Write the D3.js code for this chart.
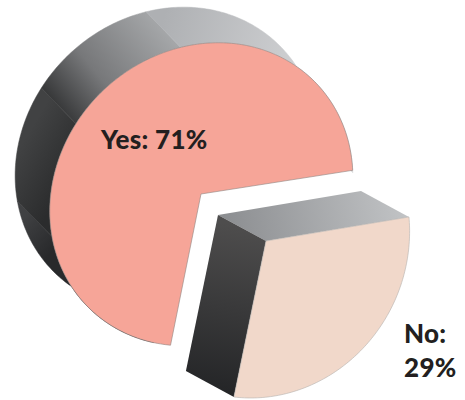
<!DOCTYPE html>
<html>
<head>
<meta charset="utf-8">
<script src="https://cdn.jsdelivr.net/npm/d3@7/dist/d3.min.js"></script>
<style>
html,body{margin:0;padding:0;background:#fff}
svg{display:block}
text{font-family:Lato,sans-serif;font-weight:900;fill:#231f20;letter-spacing:.3px}
</style>
</head>
<body>
<svg id="chart" width="465" height="400"></svg>
<script>
const categories = ["Yes", "No"];
const shares = [71, 29];
const faceFills = ["#f6a598", "#f1d8ca"];
const faceStrokes = ["#8f8581", "#b5b1ae"];

const deg = Math.PI / 180;
const svg = d3.select("#chart");
const defs = svg.append("defs");

// The pie lies on a tilted plane: each circle becomes an ellipse given by a
// centre and two axis vectors. The apex of a wedge sits near, not on, the centre.
const pieStart = 143.5 * deg;
const wedgeGeometry = [
  {centre: [201.3, 194.3], axisU: [113, -113], axisV: [101, 101], apex: [201, 194]},
  {centre: [258, 239.2], axisU: [108.4, -116.4], axisV: [106, 108], apex: [266, 241]}
];
const bigBackCentre = [166.7, 158.7];
const smallDepth = [-48, -26];

const wedges = d3.pie().sort(null).startAngle(pieStart).endAngle(pieStart + 2 * Math.PI)(shares);

function onEllipse(c, g, t) {
  return [
    c[0] + g.axisU[0] * Math.cos(t) + g.axisV[0] * Math.sin(t),
    c[1] + g.axisU[1] * Math.cos(t) + g.axisV[1] * Math.sin(t)
  ];
}

function rim(c, g, t0, t1) {
  const n = Math.max(2, Math.ceil(Math.abs(t1 - t0) / deg));
  return d3.range(n + 1).map(k => onEllipse(c, g, t0 + (t1 - t0) * k / n));
}

function gradient(id, from, to, stops) {
  const g = defs.append("linearGradient").attr("id", id)
    .attr("gradientUnits", "userSpaceOnUse")
    .attr("x1", from[0]).attr("y1", from[1]).attr("x2", to[0]).attr("y2", to[1]);
  stops.forEach(([o, c]) => g.append("stop").attr("offset", o).attr("stop-color", c));
  return `url(#${id})`;
}

const outline = d3.line();

// Curved wall of the large wedge, shaded as four facets
const curvedFacets = [
  {span: [150, 212], from: [25, 215], to: [58, 245], stops: [[0, "#404143"], [1, "#28292b"]]},
  {span: [212, 256], from: [18, 150], to: [68, 180], stops: [[0, "#414243"], [1, "#2b2c2d"]]},
  {span: [256, 304], from: [60, 120], to: [172, 28], stops: [[0, "#2f3031"], [0.4, "#77787a"], [1, "#a9abad"]]},
  {span: [304, 400], from: [160, 30], to: [310, 70], stops: [[0, "#aeb0b3"], [1, "#d2d3d5"]]}
];

const big = wedgeGeometry[0];
curvedFacets.forEach((f, i) => {
  const [t0, t1] = f.span.map(v => v * deg);
  const ring = rim(big.centre, big, t0, t1).concat(rim(bigBackCentre, big, t1, t0));
  const fill = gradient("facet" + i, f.from, f.to, f.stops);
  svg.append("path").attr("d", outline(ring) + "Z")
    .attr("fill", fill).attr("stroke", fill).attr("stroke-width", 0.5);
});

// Flat cut walls of the small wedge
const small = wedgeGeometry[1];
const rimStart = onEllipse(small.centre, small, wedges[1].startAngle);
const rimEnd = onEllipse(small.centre, small, wedges[1].endAngle);
const pushBack = p => [p[0] + smallDepth[0], p[1] + smallDepth[1]];

svg.append("path")
  .attr("d", outline([small.apex, rimStart, pushBack(rimStart), pushBack(small.apex)]) + "Z")
  .attr("fill", gradient("wallTop", [225, 225], [400, 195], [[0, "#8c8e91"], [1, "#c0c2c4"]]));
svg.append("path")
  .attr("d", outline([small.apex, pushBack(small.apex), pushBack(rimEnd), rimEnd]) + "Z")
  .attr("fill", gradient("wallSide", [235, 225], [205, 390], [[0, "#4e4d4d"], [1, "#242527"]]));

// Front faces
wedges.forEach((w, i) => {
  const g = wedgeGeometry[i];
  const ring = [g.apex].concat(rim(g.centre, g, w.startAngle, w.endAngle));
  svg.append("path").attr("d", outline(ring) + "Z")
    .attr("fill", faceFills[i]).attr("stroke", faceStrokes[i]).attr("stroke-width", 0.6);
});

// Labels
svg.append("text").attr("x", 101).attr("y", 149).attr("font-size", 26)
  .text(`${categories[0]}: ${shares[0]}%`);
const noLabel = svg.append("text").attr("font-size", 26);
noLabel.append("tspan").attr("x", 404).attr("y", 343).text(`${categories[1]}:`);
noLabel.append("tspan").attr("x", 404).attr("y", 377).text(`${shares[1]}%`);
</script>
</body>
</html>
